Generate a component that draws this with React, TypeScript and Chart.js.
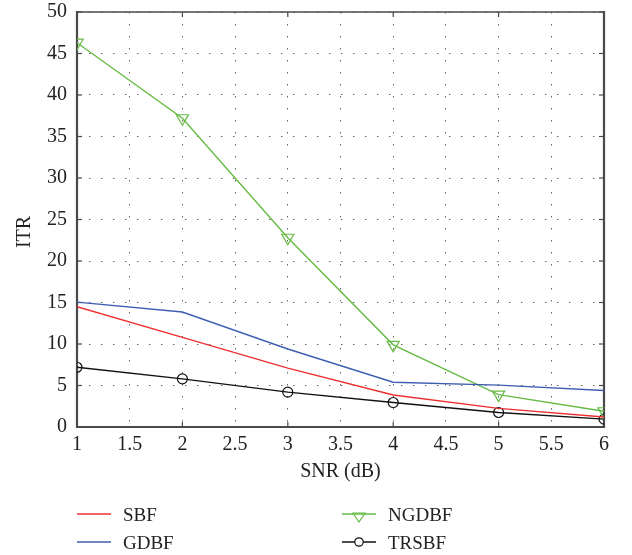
import React, { useEffect, useRef } from "react";
import { Chart, registerables } from "chart.js";

Chart.register(...registerables);

const snr = [1, 2, 3, 4, 5, 6];
const sbf = [14.5, 10.8, 7.1, 3.85, 2.25, 1.2];
const gdbf = [15.05, 13.85, 9.4, 5.4, 5.05, 4.4];
const ngdbf = [46.3, 37.2, 22.8, 9.9, 3.9, 1.9];
const trsbf = [7.2, 5.8, 4.2, 2.95, 1.75, 0.95];
const seriesNames = ["SBF", "GDBF", "NGDBF", "TRSBF"];
const seriesColors = ["#ee2f2f", "#3f5eb2", "#66bb44", "#111111"];
const xTickMajor = [1, 2, 3, 4, 5, 6];
const yTickMajor = [0, 5, 10, 15, 20, 25, 30, 35, 40, 45, 50];

const FONT = "'Liberation Serif', 'Times New Roman', serif";

const pts = (ys: number[]) => snr.map((x, i) => ({ x, y: ys[i] }));

const framePlugin = {
  id: "frame",
  beforeDatasetsDraw(chart: any) {
    const { ctx, chartArea: a, scales } = chart;
    ctx.save();
    ctx.strokeStyle = "#4a4a4a";
    ctx.lineWidth = 1.2;
    const seg = (x1: number, y1: number, x2: number, y2: number) => {
      ctx.beginPath();
      ctx.moveTo(x1, y1);
      ctx.lineTo(x2, y2);
      ctx.stroke();
    };
    xTickMajor.forEach((v) => {
      const px = scales.x.getPixelForValue(v);
      seg(px, a.top, px, a.top + 5);
      seg(px, a.bottom, px, a.bottom - 5);
    });
    yTickMajor.forEach((v) => {
      const py = scales.y.getPixelForValue(v);
      seg(a.left, py, a.left + 5, py);
      seg(a.right, py, a.right - 5, py);
    });
    ctx.lineWidth = 1.3;
    seg(a.left, a.top, a.right, a.top);
    ctx.lineWidth = 2.2;
    seg(a.left, a.top - 1, a.left, a.bottom + 1);
    seg(a.right, a.top - 1, a.right, a.bottom + 1);
    seg(a.left - 1, a.bottom, a.right + 1, a.bottom);
    ctx.restore();
  },
};

const extrasPlugin = {
  id: "extras",
  afterDraw(chart: any) {
    const { ctx } = chart;
    ctx.save();
    ctx.fillStyle = "#222";
    ctx.font = `20px ${FONT}`;
    ctx.textAlign = "center";
    ctx.textBaseline = "middle";
    ctx.translate(25, 232);
    ctx.rotate(-Math.PI / 2);
    ctx.fillText("ITR", 0, 0);
    ctx.restore();

    ctx.save();
    const cols = [77, 342];
    const rows = [514, 542];
    chart.data.datasets.forEach((d: any, i: number) => {
      const x0 = cols[Math.floor(i / 2)];
      const y = rows[i % 2];
      ctx.strokeStyle = d.borderColor;
      ctx.lineWidth = 1.5;
      ctx.beginPath();
      ctx.moveTo(x0, y);
      ctx.lineTo(x0 + 34, y);
      ctx.stroke();
      const mx = x0 + 17;
      if (d.pointStyle === "triangle") {
        ctx.lineWidth = 1.2;
        ctx.beginPath();
        ctx.moveTo(mx - 6, y - 1);
        ctx.lineTo(mx + 6, y - 1);
        ctx.lineTo(mx, y + 8);
        ctx.closePath();
        ctx.stroke();
      } else if (d.pointStyle === "circle" && d.pointRadius > 0) {
        ctx.lineWidth = 1.2;
        ctx.beginPath();
        ctx.arc(mx, y, 4.2, 0, Math.PI * 2);
        ctx.fillStyle = "#fff";
        ctx.fill();
        ctx.stroke();
      }
      ctx.fillStyle = "#222";
      ctx.font = `19px ${FONT}`;
      ctx.textAlign = "left";
      ctx.textBaseline = "middle";
      ctx.fillText(d.label, x0 + 46, y + 2);
    });
    ctx.restore();
  },
};

export default function App() {
  const ref = useRef<HTMLCanvasElement | null>(null);
  useEffect(() => {
    if (!ref.current) return;
    Chart.defaults.font.family = FONT;
    const chart = new Chart(ref.current, {
      type: "line",
      data: {
        datasets: [
          {
            label: seriesNames[0],
            data: pts(sbf),
            borderColor: seriesColors[0],
            borderWidth: 1.4,
            pointRadius: 0,
            pointStyle: "circle",
          },
          {
            label: seriesNames[1],
            data: pts(gdbf),
            borderColor: seriesColors[1],
            borderWidth: 1.4,
            pointRadius: 0,
            pointStyle: "circle",
          },
          {
            label: seriesNames[2],
            data: pts(ngdbf),
            borderColor: seriesColors[2],
            borderWidth: 1.4,
            pointRadius: 7,
            pointStyle: "triangle",
            rotation: 180,
            pointBorderWidth: 1.2,
            pointBackgroundColor: "rgba(0,0,0,0)",
            pointBorderColor: seriesColors[2],
          },
          {
            label: seriesNames[3],
            data: pts(trsbf),
            borderColor: seriesColors[3],
            borderWidth: 1.4,
            pointRadius: 5,
            pointStyle: "circle",
            pointBorderWidth: 1.2,
            pointBackgroundColor: "rgba(0,0,0,0)",
            pointBorderColor: seriesColors[3],
          },
        ],
      },
      options: {
        responsive: false,
        animation: false,
        layout: { padding: { left: 0, right: 28, top: 12, bottom: 0 } },
        plugins: { legend: { display: false }, tooltip: { enabled: false } },
        elements: { line: { tension: 0 } },
        scales: {
          x: {
            type: "linear",
            min: 1,
            max: 6,
            ticks: {
              stepSize: 0.5,
              padding: 6,
              color: "#222",
              font: { size: 20, family: FONT },
              callback: (v: any) => String(v),
            },
            grid: { color: "#666", lineWidth: 1, drawTicks: false },
            border: { display: false, dash: [1.5, 10.5] },
            title: {
              display: true,
              text: "SNR (dB)",
              color: "#222",
              font: { size: 20, family: FONT },
              padding: { top: 0, bottom: 71.5 },
            },
            afterFit: (s: any) => {
              s.height = 128;
              s.paddingLeft = 0;
              s.paddingRight = 0;
            },
          },
          y: {
            type: "linear",
            min: 0,
            max: 50,
            ticks: {
              stepSize: 5,
              padding: 10,
              color: "#222",
              font: { size: 20, family: FONT },
            },
            grid: { color: "#666", lineWidth: 1, drawTicks: false },
            border: { display: false, dash: [1.5, 10.5] },
            afterFit: (s: any) => {
              s.width = 77;
              s.paddingTop = 0;
              s.paddingBottom = 0;
            },
          },
        },
      },
      plugins: [framePlugin, extrasPlugin],
    });
    return () => chart.destroy();
  }, []);
  return (
    <div style={{ position: "absolute", left: 0, top: 0, width: 632, height: 555, background: "#fff" }}>
      <canvas ref={ref} width={632} height={555} style={{ display: "block" }} />
    </div>
  );
}
